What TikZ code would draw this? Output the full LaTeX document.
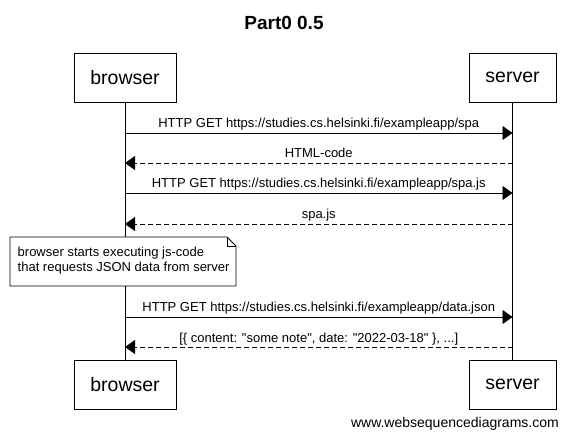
\documentclass[tikz,border=0pt]{standalone}
\usepackage{fontspec}
\setmainfont{Liberation Sans}[Ligatures=TeXOff]
\usetikzlibrary{arrows.meta}
\tikzset{
  actor/.style={draw, line width=0.8pt, fill=white, minimum height=49pt, inner sep=0pt, font=\fontsize{19.5}{22}\selectfont},
  lifeline/.style={line width=0.8pt},
  req/.style={line width=0.8pt, -{Triangle[length=10pt,width=14pt]}},
  resp/.style={line width=0.8pt, dash pattern=on 5pt off 3pt, -{Triangle[length=10pt,width=14pt]}},
  msg/.style={font=\fontsize{13}{15}\selectfont, inner sep=0pt, anchor=base},
  notebox/.style={line width=0.8pt, fill=white},
  notetext/.style={font=\fontsize{13}{15}\selectfont, align=left, anchor=north west, inner sep=0pt}
}
\begin{document}
\begin{tikzpicture}[x=1pt,y=-1pt]
\useasboundingbox (0,0) rectangle (570,443);
\node[font=\bfseries\fontsize{19}{22}\selectfont, anchor=base] (title) at (284,30) {Part0 0.5};
\node[actor, minimum width=102pt] (bt) at (125,77.5) {browser};
\node[actor, minimum width=87pt] (st) at (512.5,77.5) {server};
\node[actor, minimum width=102pt] (bb) at (125,384.5) {browser};
\node[actor, minimum width=87pt] (sb) at (512.5,384.5) {server};
\draw[lifeline] (bt.south) -- (bb.north);
\draw[lifeline] (st.south) -- (sb.north);
% messages
\foreach \y/\t in {133/{HTTP GET https://studies.cs.helsinki.fi/exampleapp/spa},
                   193/{HTTP GET https://studies.cs.helsinki.fi/exampleapp/spa.js},
                   317/{HTTP GET https://studies.cs.helsinki.fi/exampleapp/data.json}}{
  \coordinate (a) at (125,\y);
  \coordinate (b) at (512.5,\y);
  \draw[req] (a) -- (b);
  \node[msg] at (318.75,\y-5) {\t};
}
\foreach \y/\t in {163/{HTML-code}, 224/{spa.js}, 347/{[\{ content: "some note", date: "2022-03-18" \}, ...]}}{
  \coordinate (a) at (512.5,\y);
  \coordinate (b) at (125,\y);
  \draw[resp] (a) -- (b);
  \node[msg] at (318.75,\y-5) {\t};
}
% note
\draw[notebox] (10,237) -- (227,237) -- (236,246) -- (236,286) -- (10,286) -- cycle;
\draw[line width=0.8pt] (227,237) -- (227,246) -- (236,246);
\node[notetext] (nt) at (17.5,247) {browser starts executing js-code\\that requests JSON data from server};
\node[font=\fontsize{14}{16}\selectfont, anchor=base east, inner sep=0pt] (wm) at (559,427) {www.websequencediagrams.com};
\end{tikzpicture}
\end{document}
